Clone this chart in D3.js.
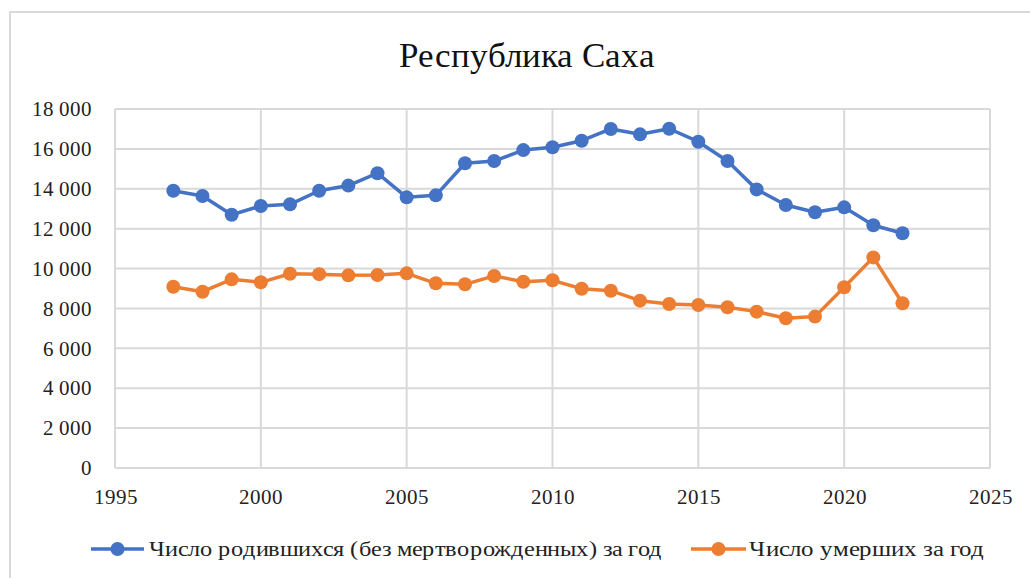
<!DOCTYPE html>
<html>
<head>
<meta charset="utf-8">
<script src="https://cdn.jsdelivr.net/npm/d3@7"></script>
<style>
  @font-face { font-family: "ChartSerif"; src: local("Liberation Serif"), local("LiberationSerif"), local("Tinos"); }
  html, body { margin: 0; padding: 0; background: #fff; }
  svg { display: block; }
  .serif { font-family: "ChartSerif", "Liberation Serif", serif; }
</style>
</head>
<body>
<svg id="chart" width="1030" height="578"></svg>
<script>
// Demographics of the Sakha Republic, 1997–2022
const years = [1997, 1998, 1999, 2000, 2001, 2002, 2003, 2004, 2005, 2006, 2007, 2008, 2009,
               2010, 2011, 2012, 2013, 2014, 2015, 2016, 2017, 2018, 2019, 2020, 2021, 2022];
const births = [13900, 13640, 12700, 13140, 13220, 13900, 14160, 14780, 13570, 13670, 15280, 15390, 15940,
                16080, 16410, 17000, 16730, 17010, 16360, 15390, 13970, 13190, 12820, 13070, 12170, 11770];
const deaths = [9090, 8840, 9460, 9310, 9740, 9720, 9660, 9680, 9760, 9260, 9210, 9630, 9340,
                9410, 8990, 8890, 8390, 8220, 8170, 8060, 7840, 7510, 7590, 9060, 10560, 8260];
const xTicks = [1995, 2000, 2005, 2010, 2015, 2020, 2025];
const yTicks = [0, 2000, 4000, 6000, 8000, 10000, 12000, 14000, 16000, 18000];
const seriesNames = ["Число родившихся (без мертворожденных) за год", "Число умерших за год"];
const seriesColors = ["#4472c4", "#ed7d31"];
const title = "Республика Саха";

const svg = d3.select("#chart");
const m = { left: 115, right: 990, top: 109, bottom: 468 };

const x = d3.scaleLinear().domain([1995, 2025]).range([m.left, m.right]);
const y = d3.scaleLinear().domain([0, 18000]).range([m.bottom, m.top]);
const fmt = v => d3.format(",")(v).replace(/,/g, "\u00a0");

// outer frame
svg.append("rect")
  .attr("x", 10).attr("y", 12).attr("width", 1040).attr("height", 600)
  .attr("fill", "none").attr("stroke", "#d9d9d9").attr("stroke-width", 2);

// title
svg.append("text")
  .attr("class", "serif")
  .attr("x", 527).attr("y", 67)
  .attr("text-anchor", "middle")
  .attr("font-size", 35)
  .attr("fill", "#111")
  .text(title);

// gridlines
const grid = svg.append("g").attr("stroke", "#d9d9d9").attr("stroke-width", 2);
grid.selectAll("line.h").data(yTicks).join("line")
  .attr("class", "h")
  .attr("x1", m.left).attr("x2", m.right)
  .attr("y1", d => y(d)).attr("y2", d => y(d));
grid.selectAll("line.v").data(xTicks).join("line")
  .attr("class", "v")
  .attr("y1", m.top).attr("y2", m.bottom)
  .attr("x1", d => x(d)).attr("x2", d => x(d));

// y axis labels
const yAxis = svg.append("g")
  .attr("transform", `translate(${m.left},0)`)
  .call(d3.axisLeft(y).tickValues(yTicks).tickFormat(fmt).tickSize(0).tickPadding(23));
yAxis.attr("font-family", null).attr("font-size", 21).attr("class", "serif");
yAxis.select(".domain").remove();
yAxis.selectAll("text").attr("fill", "#222");

// x axis labels
const xAxis = svg.append("g")
  .attr("transform", `translate(0,${m.bottom})`)
  .call(d3.axisBottom(x).tickValues(xTicks).tickFormat(d3.format("d")).tickSize(0).tickPadding(21));
xAxis.attr("font-family", null).attr("font-size", 21).attr("class", "serif");
xAxis.select(".domain").remove();
xAxis.selectAll("text").attr("fill", "#222");

// series
const series = [births, deaths];
const line = d3.line().x((d, i) => x(years[i])).y(d => y(d));
series.forEach((vals, s) => {
  const g = svg.append("g");
  g.append("path")
    .datum(vals)
    .attr("d", line)
    .attr("fill", "none")
    .attr("stroke", seriesColors[s])
    .attr("stroke-width", 3.5)
    .attr("stroke-linejoin", "round");
  g.selectAll("circle").data(vals).join("circle")
    .attr("cx", (d, i) => x(years[i]))
    .attr("cy", d => y(d))
    .attr("r", 7)
    .attr("fill", seriesColors[s]);
});

// legend
const legendItems = [
  { x0: 91, x1: 144, tx: 149, tw: 513 },
  { x0: 691, x1: 746, tx: 749, tw: 235 }
];
const ly = 549;
const legend = svg.append("g").attr("class", "serif").attr("font-size", 21);
legendItems.forEach((it, s) => {
  legend.append("line")
    .attr("x1", it.x0).attr("x2", it.x1).attr("y1", ly).attr("y2", ly)
    .attr("stroke", seriesColors[s]).attr("stroke-width", 3.5);
  legend.append("circle")
    .attr("cx", (it.x0 + it.x1) / 2).attr("cy", ly).attr("r", 7)
    .attr("fill", seriesColors[s]);
  legend.append("text")
    .attr("x", it.tx).attr("y", ly + 7)
    .attr("fill", "#222")
    .attr("textLength", it.tw)
    .attr("lengthAdjust", "spacingAndGlyphs")
    .text(seriesNames[s]);
});
</script>
</body>
</html>
